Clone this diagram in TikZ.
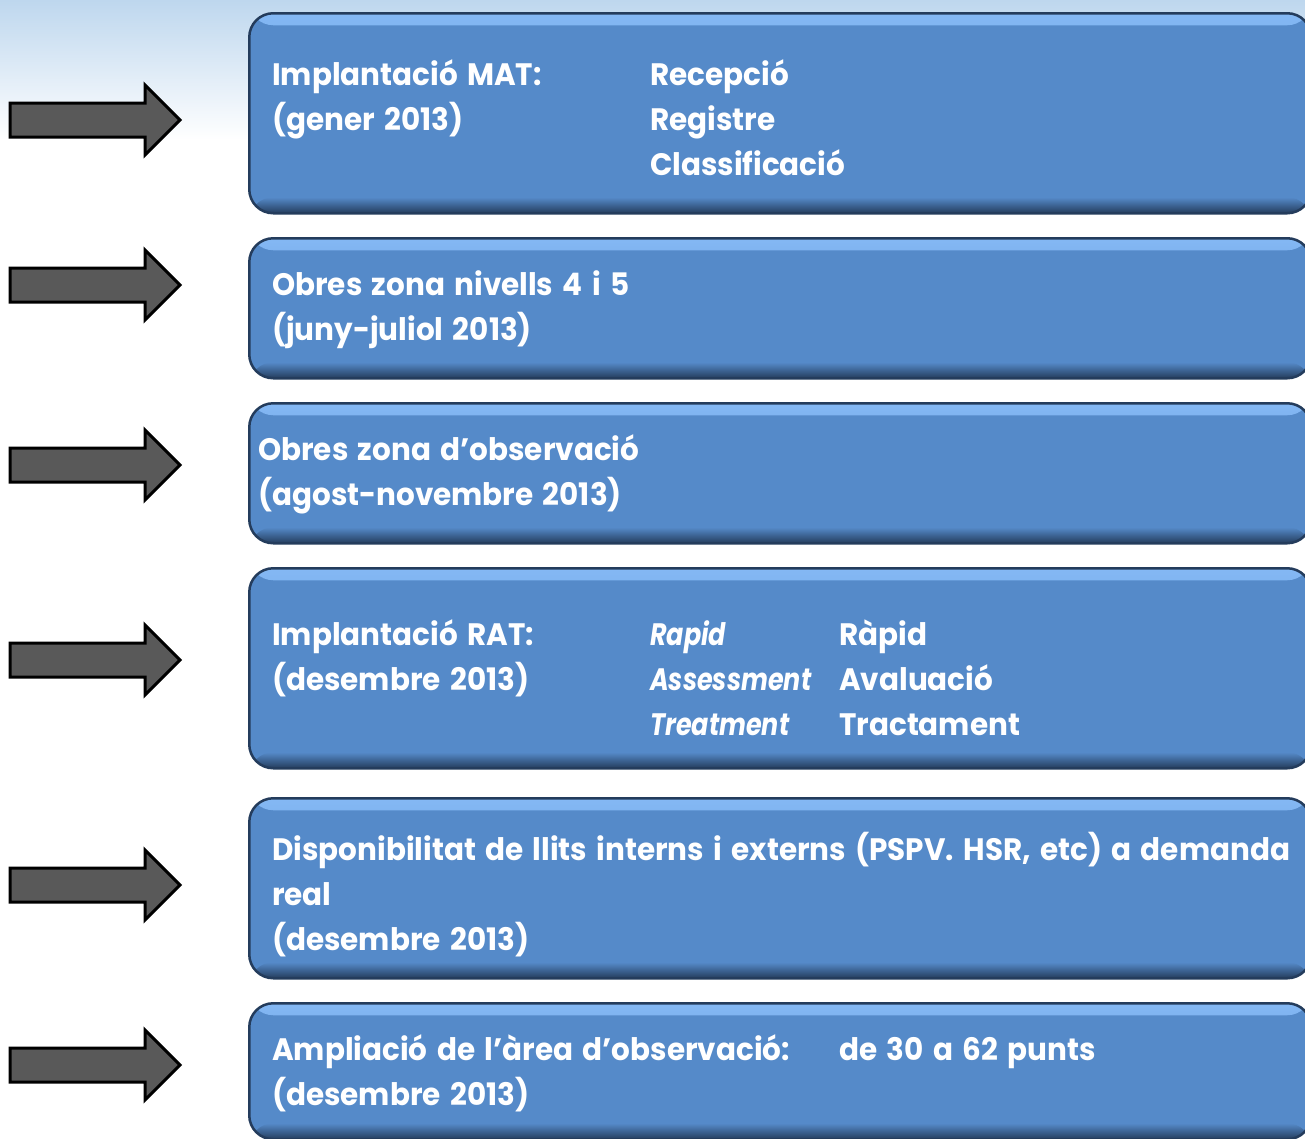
\documentclass[tikz,border=0pt]{standalone}
\usepackage{fontspec}
\setmainfont{Poppins}[WordSpace=1.5,
  BoldFeatures={FakeStretch=0.95},
  BoldItalicFeatures={FakeStretch=0.82}]

\definecolor{bgtop}{RGB}{190,215,238}
\definecolor{boxfill}{RGB}{85,138,201}
\definecolor{boxdark}{RGB}{36,60,92}
\definecolor{boxlight}{RGB}{132,184,244}
\definecolor{arrowfill}{RGB}{89,89,89}

\tikzset{
  stage/.style={rectangle, rounded corners=24, anchor=north west, inner sep=0pt,
    minimum width=1062, fill=boxfill, draw=boxdark, line width=2.5pt,
    path picture={
      \shade[top color=boxlight, bottom color=boxfill]
        (path picture bounding box.north west) rectangle ([yshift=-12]path picture bounding box.north east);
      \shade[top color=boxfill, bottom color=boxdark]
        ([yshift=16]path picture bounding box.south west) rectangle (path picture bounding box.south east);
    }},
  lbl/.style={anchor=base west, inner sep=0pt, text=white,
    font=\bfseries\fontsize{31}{38}\selectfont},
  lblit/.style={lbl, font=\bfseries\itshape\fontsize{31}{38}\selectfont},
  blockarrow/.style={draw=black, line width=3pt, fill=arrowfill, line join=miter}
}

\begin{document}
\begin{tikzpicture}[x=1pt, y=-1pt]
  \useasboundingbox (0,0) rectangle (1305,1138);
  % background
  \shade[top color=bgtop, bottom color=white] (0,0) rectangle (1305,140);
  \fill[white] (0,140) rectangle (1305,1138);

  % arrows
  \foreach \y in {120,285,465,660,885,1065}
    \draw[blockarrow] (10,\y-17) -- (145,\y-17) -- (145,\y-35) -- (180,\y)
      -- (145,\y+35) -- (145,\y+17) -- (10,\y+17) -- cycle;

  % boxes
  \node[stage, minimum height=200] (mat) at (248,12) {};
  \node[stage, minimum height=140] (obres45) at (248,237) {};
  \node[stage, minimum height=140] (obresobs) at (248,402) {};
  \node[stage, minimum height=200] (rat) at (248,567) {};
  \node[stage, minimum height=180] (llits) at (248,797) {};
  \node[stage, minimum height=136] (ampl) at (248,1002) {};

  % texts
  \node[lbl] (matA) at (272,85) {Implantació MAT:};
  \node[lbl] (matB) at (272,130) {(gener 2013)};
  \node[lbl] (recep) at (650,85) {Recepció};
  \node[lbl] (regis) at (650,130) {Registre};
  \node[lbl] (class) at (650,175) {Classificació};

  \node[lbl] (obA) at (272,295) {Obres zona nivells 4 i 5};
  \node[lbl] (obB) at (272,340) {(juny-juliol 2013)};

  \node[lbl] (obsA) at (258,460) {Obres zona d’observació};
  \node[lbl] (obsB) at (258,505) {(agost-novembre 2013)};

  \node[lbl] (ratA) at (272,645) {Implantació RAT:};
  \node[lbl] (ratB) at (272,690) {(desembre 2013)};
  \node[lblit] (enR) at (650,645) {Rapid};
  \node[lblit] (enA) at (650,690) {Assessment};
  \node[lblit] (enT) at (650,735) {Treatment};
  \node[lbl] (caR) at (839,645) {Ràpid};
  \node[lbl] (caA) at (839,690) {Avaluació};
  \node[lbl] (caT) at (839,735) {Tractament};

  \node[lbl] (llA) at (272,860) {Disponibilitat de llits interns i externs (PSPV. HSR, etc) a demanda};
  \node[lbl] (llB) at (272,905) {real};
  \node[lbl] (llC) at (272,950) {(desembre 2013)};

  \node[lbl] (amA) at (272,1060) {Ampliació de l’àrea d’observació:};
  \node[lbl] (amB) at (839,1060) {de 30 a 62 punts};
  \node[lbl] (amC) at (272,1105) {(desembre 2013)};
\end{tikzpicture}
\end{document}
